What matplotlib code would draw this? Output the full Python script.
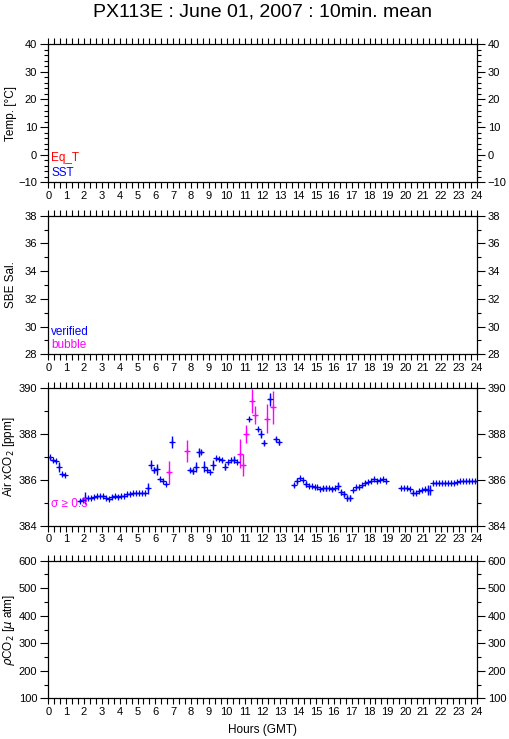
import matplotlib
matplotlib.use("Agg")
import matplotlib.pyplot as plt
from matplotlib.ticker import MultipleLocator
import numpy as np

plt.rcParams['font.family'] = ['Liberation Sans', 'DejaVu Sans']

title = "PX113E : June 01, 2007 : 10min. mean"
hour_ticks = list(range(0, 25))

# 10-min mean centre times (minutes of day)
minutes = [5, 15, 25, 35, 45, 55,
           105, 115, 125, 135, 145, 155, 165, 175, 185, 195, 205, 215, 225, 235, 245, 255,
           265, 275, 285, 295, 305, 315, 325, 335, 345, 355, 365, 375, 385, 395, 405, 415,
           465, 475, 485, 495, 505, 515, 525, 535, 545, 555, 565, 575, 585, 595, 605, 615,
           625, 635, 645, 655, 665, 675, 685, 695, 705, 715, 725, 735, 745, 755, 765, 775,
           825, 835, 845, 855, 865, 875, 885, 895, 905, 915, 925, 935, 945, 955, 965, 975,
           985, 995, 1005, 1015, 1025, 1035, 1045, 1055, 1065, 1075, 1085, 1095, 1105, 1115, 1125, 1135,
           1185, 1195, 1205, 1215, 1225, 1235, 1245, 1255, 1265, 1275, 1285, 1295, 1305,
           1315, 1325, 1335, 1345, 1355, 1365, 1375, 1385, 1395, 1405, 1415, 1425, 1435]

air_xco2 = [386.99, 386.86, 386.82, 386.56, 386.27, 386.21,
            385.09, 385.13, 385.21, 385.21, 385.22, 385.25, 385.29, 385.31, 385.29, 385.23, 385.18, 385.28,
            385.29, 385.28, 385.31, 385.32, 385.38, 385.41, 385.44, 385.45, 385.44, 385.42, 385.42, 385.64,
            386.67, 386.45, 386.47, 386.05, 385.96, 385.82, 386.34, 387.66,
            387.27, 386.44, 386.40, 386.56, 387.22, 387.22, 386.59, 386.44, 386.35, 386.64, 386.95, 386.92,
            386.86, 386.59, 386.77, 386.86, 386.89, 386.79, 387.15, 386.67, 388.01, 388.68, 389.43, 388.84,
            388.21, 388.01, 387.63, 388.68, 389.52, 389.17, 387.78, 387.65,
            385.77, 385.96, 386.09, 386.00, 385.84, 385.76, 385.74, 385.71, 385.68, 385.63, 385.64, 385.64,
            385.64, 385.61, 385.64, 385.74, 385.47, 385.39, 385.22, 385.22, 385.57, 385.68, 385.71, 385.77,
            385.89, 385.90, 385.96, 386.03, 385.98, 386.00, 386.03, 385.96,
            385.66, 385.66, 385.66, 385.62, 385.45, 385.45, 385.53, 385.58, 385.62, 385.57, 385.57, 385.86,
            385.89, 385.89, 385.89, 385.89, 385.88, 385.87, 385.89, 385.92, 385.94, 385.95, 385.95, 385.95,
            385.95, 385.95]

air_sigma = [0.05, 0.06, 0.05, 0.22, 0.06, 0.04,
             0.05, 0.05, 0.25, 0.05, 0.05, 0.05, 0.05, 0.05, 0.05, 0.05, 0.05, 0.05,
             0.05, 0.05, 0.05, 0.05, 0.05, 0.05, 0.05, 0.05, 0.04, 0.04, 0.04, 0.25,
             0.20, 0.12, 0.25, 0.06, 0.05, 0.04, 0.50, 0.28,
             0.47, 0.07, 0.12, 0.22, 0.20, 0.10, 0.23, 0.06, 0.05, 0.22, 0.06, 0.05,
             0.06, 0.15, 0.08, 0.08, 0.15, 0.06, 0.63, 0.47, 0.38, 0.07, 0.52, 0.41,
             0.07, 0.17, 0.12, 0.62, 0.27, 0.73, 0.10, 0.10,
             0.05, 0.15, 0.04, 0.05, 0.12, 0.05, 0.04, 0.04, 0.04, 0.04, 0.10, 0.10,
             0.04, 0.10, 0.04, 0.17, 0.12, 0.12, 0.12, 0.12, 0.06, 0.05, 0.05, 0.05,
             0.05, 0.04, 0.05, 0.04, 0.05, 0.04, 0.05, 0.05,
             0.03, 0.03, 0.03, 0.04, 0.12, 0.05, 0.05, 0.05, 0.05, 0.20, 0.23, 0.05,
             0.04, 0.04, 0.04, 0.04, 0.04, 0.04, 0.04, 0.04, 0.04, 0.04, 0.04, 0.04,
             0.04, 0.04]

sigma_limit = 0.3

BLUE = (0, 0, 1)
MAGENTA = (1, 0, 1)
RED = (1, 0, 0)

W, H = 509, 739
fig = plt.figure(figsize=(W / 100, H / 100), dpi=100)

left_px, right_px = 48.3, 476.6
panels_px = [(44.3, 182.3), (215.7, 354.3), (388.3, 526.0), (560.7, 698.3)]

def make_ax(top, bot):
    return fig.add_axes([left_px / W, 1 - bot / H, (right_px - left_px) / W, (bot - top) / H])

axes = [make_ax(t, b) for t, b in panels_px]

ylims = [(-10, 40), (28, 38), (384, 390), (100, 600)]
ymaj = [10, 2, 2, 100]
ymin = [2, 1, 1, 50]
ylabels = ["Temp. [\u00b0C]", "SBE Sal.", "Air xCO$_2$ [ppm]", "$\\rho$CO$_2$ [$\\mu$ atm]"]

for ax, yl, mj, mn, lab in zip(axes, ylims, ymaj, ymin, ylabels):
    ax.set_xlim(0, 24)
    ax.set_ylim(*yl)
    ax.set_xticks(hour_ticks)
    ax.set_xticklabels([str(h) for h in hour_ticks])
    ax.xaxis.set_minor_locator(MultipleLocator(1 / 3))
    ax.yaxis.set_major_locator(MultipleLocator(mj))
    ax.yaxis.set_minor_locator(MultipleLocator(mn))
    ax.tick_params(axis='both', which='both', direction='out', top=True, right=True,
                   labelright=True, labelsize=8, width=0.8, pad=2)
    ax.tick_params(axis='x', which='both', length=4)
    ax.tick_params(axis='y', which='major', length=6)
    ax.tick_params(axis='y', which='minor', length=3)
    for s in ax.spines.values():
        s.set_linewidth(0.9)
    ax.set_ylabel(lab, fontsize=8.5)
    ax.yaxis.set_label_coords(-0.072, 0.5)

# panel legends
axes[0].text(0.007, 0.176, "Eq_T", color=RED, fontsize=8.5, transform=axes[0].transAxes, va='center', ha='left')
axes[0].text(0.007, 0.067, "SST", color=BLUE, fontsize=8.5, transform=axes[0].transAxes, va='center', ha='left')
axes[1].text(0.007, 0.16, "verified", color=BLUE, fontsize=8.5, transform=axes[1].transAxes, va='center', ha='left')
axes[1].text(0.007, 0.067, "bubble", color=MAGENTA, fontsize=8.5, transform=axes[1].transAxes, va='center', ha='left')
axes[2].text(0.007, 0.16, "\u03c3 \u2265 0.3", color=MAGENTA, fontsize=8.5, transform=axes[2].transAxes, va='center', ha='left')

# air xCO2 data
hrs = np.array(minutes) / 60.0
vals = np.array(air_xco2)
sig = np.array(air_sigma)
for mask, col in [(sig < sigma_limit, BLUE), (sig >= sigma_limit, MAGENTA)]:
    axes[2].errorbar(hrs[mask], vals[mask], yerr=sig[mask], xerr=5 / 60.0, fmt='+',
                     color=col, ecolor=col, elinewidth=1.0, capsize=0,
                     markersize=4.5, markeredgewidth=0.9, clip_on=True)

fig.text(262.5 / W, 1 - 12 / H, title, ha='center', va='center', fontsize=14)
fig.text(262.5 / W, 1 - 730 / H, "Hours (GMT)", ha='center', va='center', fontsize=8.5)

fig.savefig("out.png", dpi=100)
